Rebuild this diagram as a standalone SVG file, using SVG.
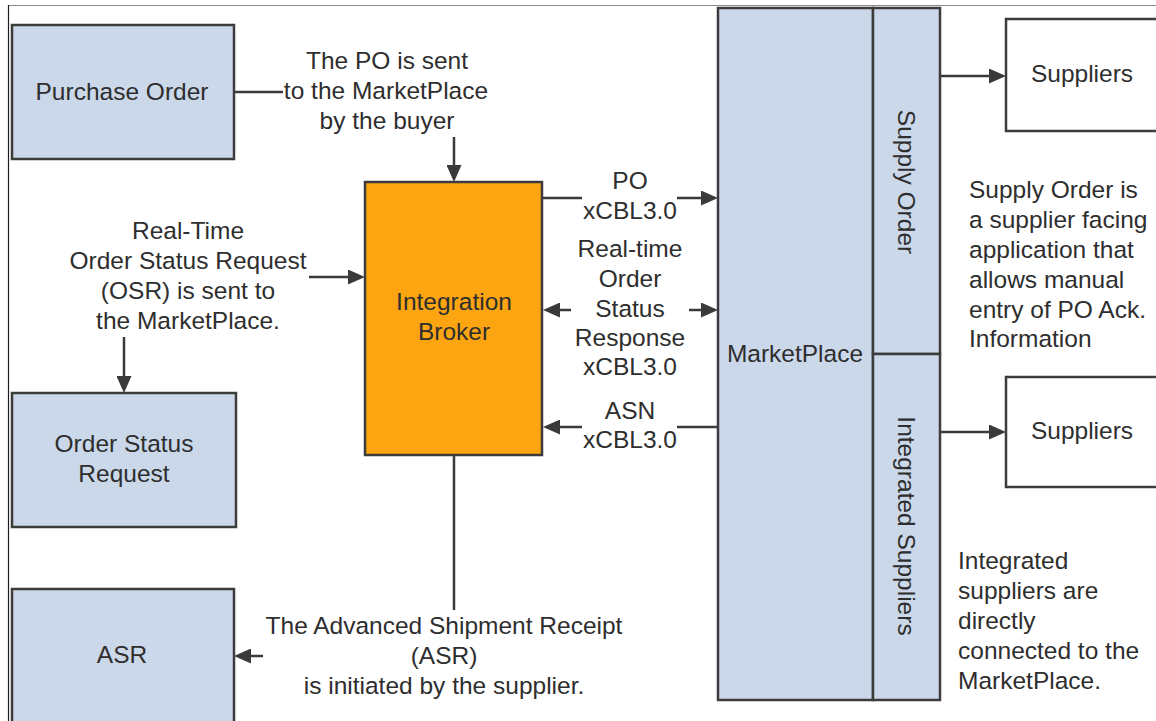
<svg xmlns="http://www.w3.org/2000/svg" width="1156" height="721" viewBox="0 0 1156 721">
  <style>
    .box { fill: #cbd8ea; stroke: #3c3c3c; stroke-width: 2.5; }
    .white { fill: #ffffff; stroke: #3c3c3c; stroke-width: 2.5; }
    .broker { fill: #fca510; stroke: #3c3c3c; stroke-width: 2.5; }
    .conn { fill: none; stroke: #3a3a3a; stroke-width: 2.5; }
    .arr { marker-end: url(#head); }
    text { font-family: "Liberation Sans", Arial, sans-serif; font-size: 24.5px; fill: #2e2e2e; }
    .c { text-anchor: middle; }
  </style>
  <defs>
    <marker id="head" viewBox="0 0 17 15" refX="11" refY="7.5" markerWidth="17" markerHeight="15" markerUnits="userSpaceOnUse" orient="auto">
      <path d="M0,0 L17,7.5 L0,15 Z" fill="#3a3a3a"/>
    </marker>
  </defs>

  <rect width="1156" height="721" fill="#ffffff"/>
  <!-- frame -->
  <line x1="8" y1="5.5" x2="1156" y2="5.5" stroke="#8a8a8a" stroke-width="1.2"/>
  <line x1="8.5" y1="5" x2="8.5" y2="721" stroke="#1e1e1e" stroke-width="1.2"/>

  <g id="connectors">
    <line class="conn" x1="234" y1="92" x2="283" y2="92"/>
    <line class="conn arr" x1="454" y1="137" x2="454" y2="176"/>
    <line class="conn arr" x1="309" y1="277" x2="359" y2="277"/>
    <line class="conn arr" x1="124" y1="337" x2="124" y2="387"/>
    <line class="conn" x1="542" y1="198" x2="582" y2="198"/>
    <line class="conn arr" x1="677" y1="198" x2="712" y2="198"/>
    <line class="conn arr" x1="571" y1="310" x2="549" y2="310"/>
    <line class="conn arr" x1="689" y1="310" x2="712" y2="310"/>
    <line class="conn" x1="718" y1="427" x2="677" y2="427"/>
    <line class="conn arr" x1="582" y1="427" x2="549" y2="427"/>
    <line class="conn" x1="454" y1="455" x2="454" y2="610"/>
    <line class="conn arr" x1="263" y1="656" x2="240" y2="656"/>
    <line class="conn arr" x1="940" y1="76" x2="1000" y2="76"/>
    <line class="conn arr" x1="940" y1="432" x2="1000" y2="432"/>
  </g>

  <g id="purchase-order">
    <rect class="box" x="12" y="25" width="222" height="134"/>
    <text class="c" x="122" y="100">Purchase Order</text>
  </g>

  <g id="order-status-request">
    <rect class="box" x="12" y="393" width="224" height="134"/>
    <text class="c" x="124" y="452">Order Status</text>
    <text class="c" x="124" y="482">Request</text>
  </g>

  <g id="asr">
    <rect class="box" x="12" y="589" width="222" height="150"/>
    <text class="c" x="122" y="663">ASR</text>
  </g>

  <g id="integration-broker">
    <rect class="broker" x="365" y="182" width="177" height="273"/>
    <text class="c" x="454" y="310">Integration</text>
    <text class="c" x="454" y="340">Broker</text>
  </g>

  <g id="marketplace">
    <rect class="box" x="718" y="8" width="155" height="692"/>
    <text class="c" x="795" y="362">MarketPlace</text>
  </g>

  <g id="supply-order">
    <rect class="box" x="873" y="8" width="67" height="346"/>
    <text class="c" transform="translate(906 182) rotate(90)" y="8.5">Supply Order</text>
  </g>

  <g id="integrated-suppliers">
    <rect class="box" x="873" y="354" width="67" height="346"/>
    <text class="c" transform="translate(906 526) rotate(90)" y="8.5">Integrated Suppliers</text>
  </g>

  <g id="suppliers-1">
    <rect class="white" x="1006" y="19" width="200" height="112"/>
    <text class="c" x="1082" y="82">Suppliers</text>
  </g>

  <g id="suppliers-2">
    <rect class="white" x="1006" y="377" width="200" height="110"/>
    <text class="c" x="1082" y="439">Suppliers</text>
  </g>

  <g id="labels">
    <text class="c" x="387" y="69">The PO is sent</text>
    <text class="c" x="386" y="99">to the MarketPlace</text>
    <text class="c" x="387" y="129">by the buyer</text>

    <text class="c" x="188" y="239">Real-Time</text>
    <text class="c" x="188" y="269">Order Status Request</text>
    <text class="c" x="188" y="299">(OSR) is sent to</text>
    <text class="c" x="188" y="329">the MarketPlace.</text>

    <text class="c" x="630" y="189">PO</text>
    <text class="c" x="630" y="219">xCBL3.0</text>

    <text class="c" x="630" y="257">Real-time</text>
    <text class="c" x="630" y="287">Order</text>
    <text class="c" x="630" y="317">Status</text>
    <text class="c" x="630" y="346">Response</text>
    <text class="c" x="630" y="375">xCBL3.0</text>

    <text class="c" x="630" y="419">ASN</text>
    <text class="c" x="630" y="448">xCBL3.0</text>

    <text class="c" x="444" y="634">The Advanced Shipment Receipt</text>
    <text class="c" x="444" y="664">(ASR)</text>
    <text class="c" x="444" y="694">is initiated by the supplier.</text>

    <text x="969" y="198">Supply Order is</text>
    <text x="969" y="228">a supplier facing</text>
    <text x="969" y="258">application that</text>
    <text x="969" y="288">allows manual</text>
    <text x="969" y="318">entry of PO Ack.</text>
    <text x="969" y="347">Information</text>

    <text x="958" y="569">Integrated</text>
    <text x="958" y="599">suppliers are</text>
    <text x="958" y="629">directly</text>
    <text x="958" y="659">connected to the</text>
    <text x="958" y="689">MarketPlace.</text>
  </g>
</svg>
